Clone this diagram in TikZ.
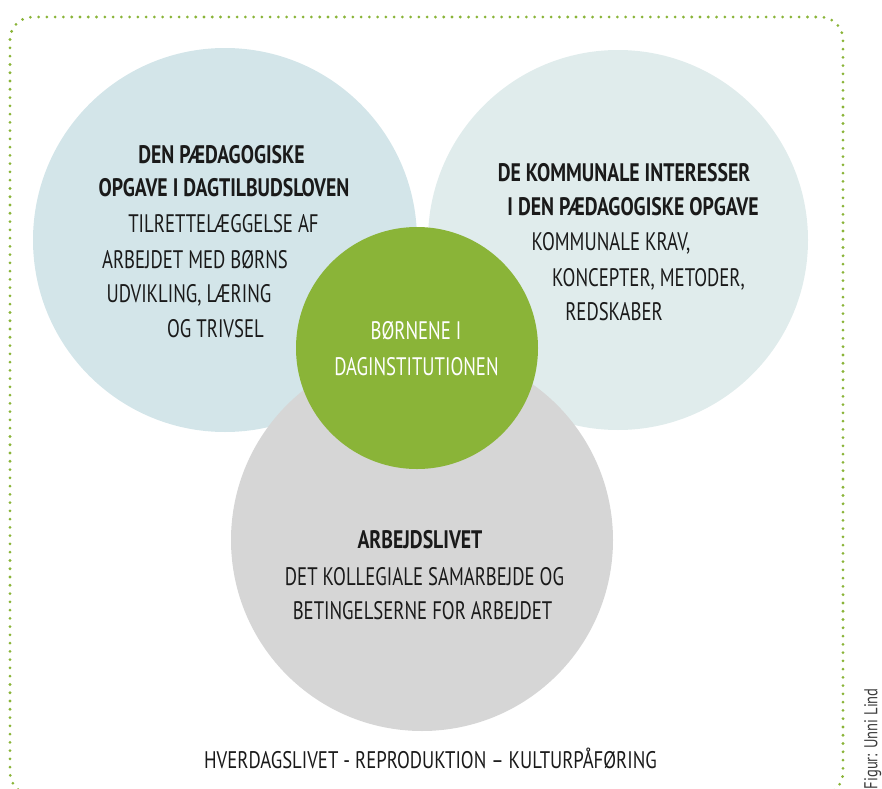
\documentclass[tikz,border=0pt]{standalone}
\usepackage{fontspec}
\setmainfont{PT Sans}[FakeStretch=0.78]
\newfontfamily\narrowfont{PT Sans}[FakeStretch=0.74]
\usepackage{tikz}
\usepackage{xcolor}
\usetikzlibrary{shapes, positioning}
\definecolor{bluecirc}{RGB}{211,229,233}
\definecolor{palecirc}{RGB}{224,236,236}
\definecolor{greycirc}{RGB}{214,214,214}
\definecolor{kidgreen}{RGB}{138,180,56}
\definecolor{ink}{RGB}{26,26,26}
\begin{document}
\begin{tikzpicture}[x=0.75pt, y=-0.75pt,
        field/.style={circle, inner sep=0pt, draw=none},
        head/.style={anchor=base, inner sep=0pt, text=ink, font=\fontsize{19}{21}\selectfont\bfseries},
        body/.style={anchor=base, inner sep=0pt, text=ink, font=\narrowfont\fontsize{19}{21}\selectfont}]
        \useasboundingbox (0,0) rectangle (882,789);
        \clip (0,0) rectangle (882,789);

        \draw[kidgreen, line width=2.3pt, line cap=round, dash pattern=on 0pt off 6.2pt, rounded corners=17pt]
            (10,17) rectangle (843,795);

        \node[field, fill=bluecirc, minimum size=288pt] (law) at (225,240) {};
        \node[field, fill=palecirc, minimum size=285pt] (kom) at (618,240) {};
        \node[field, fill=greycirc, minimum size=286.5pt] (work) at (422,540) {};
        \node[field, fill=kidgreen, minimum size=181.5pt] (kids) at (417,348) {};

        \node[head] (law1) at (221.5,163.5) {DEN PÆDAGOGISKE};
        \node[head] (law2) at (224,196.5) {OPGAVE I DAGTILBUDSLOVEN};
        \node[body] (law3) at (223.5,232.5) {TILRETTELÆGGELSE AF};
        \node[body] (law4) at (195,268.5) {ARBEJDET MED BØRNS};
        \node[body] (law5) at (189,302.5) {UDVIKLING, LÆRING};
        \node[body] (law6) at (215.5,337.5) {OG TRIVSEL};

        \node[head] (kom1) at (624,181.5) {DE KOMMUNALE INTERESSER};
        \node[head] (kom2) at (633,215.5) {I DEN PÆDAGOGISKE OPGAVE};
        \node[body] (kom3) at (611,250.5) {KOMMUNALE KRAV,};
        \node[body] (kom4) at (648.5,286.5) {KONCEPTER, METODER,};
        \node[body] (kom5) at (614,320.5) {REDSKABER};

        \node[head] (work1) at (420,548.5) {ARBEJDSLIVET};
        \node[body] (work2) at (424.5,585.5) {DET KOLLEGIALE SAMARBEJDE OG};
        \node[body] (work3) at (422.5,619.5) {BETINGELSERNE FOR ARBEJDET};

        \node[body, text=white] (kids1) at (416,339.5) {BØRNENE I};
        \node[body, text=white] (kids2) at (416.5,375.5) {DAGINSTITUTIONEN};

        \node[anchor=base, inner sep=0pt, text=ink, font=\fontsize{18}{20}\selectfont] (life) at (430.5,768.5)
            {HVERDAGSLIVET - REPRODUKTION – KULTURPÅFØRING};

        \node[inner sep=0pt, rotate=90, anchor=north east, text=ink!85, font=\fontsize{14}{16}\selectfont]
            (credit) at (864,688) {Figur: Unni Lind};
\end{tikzpicture}
\end{document}
